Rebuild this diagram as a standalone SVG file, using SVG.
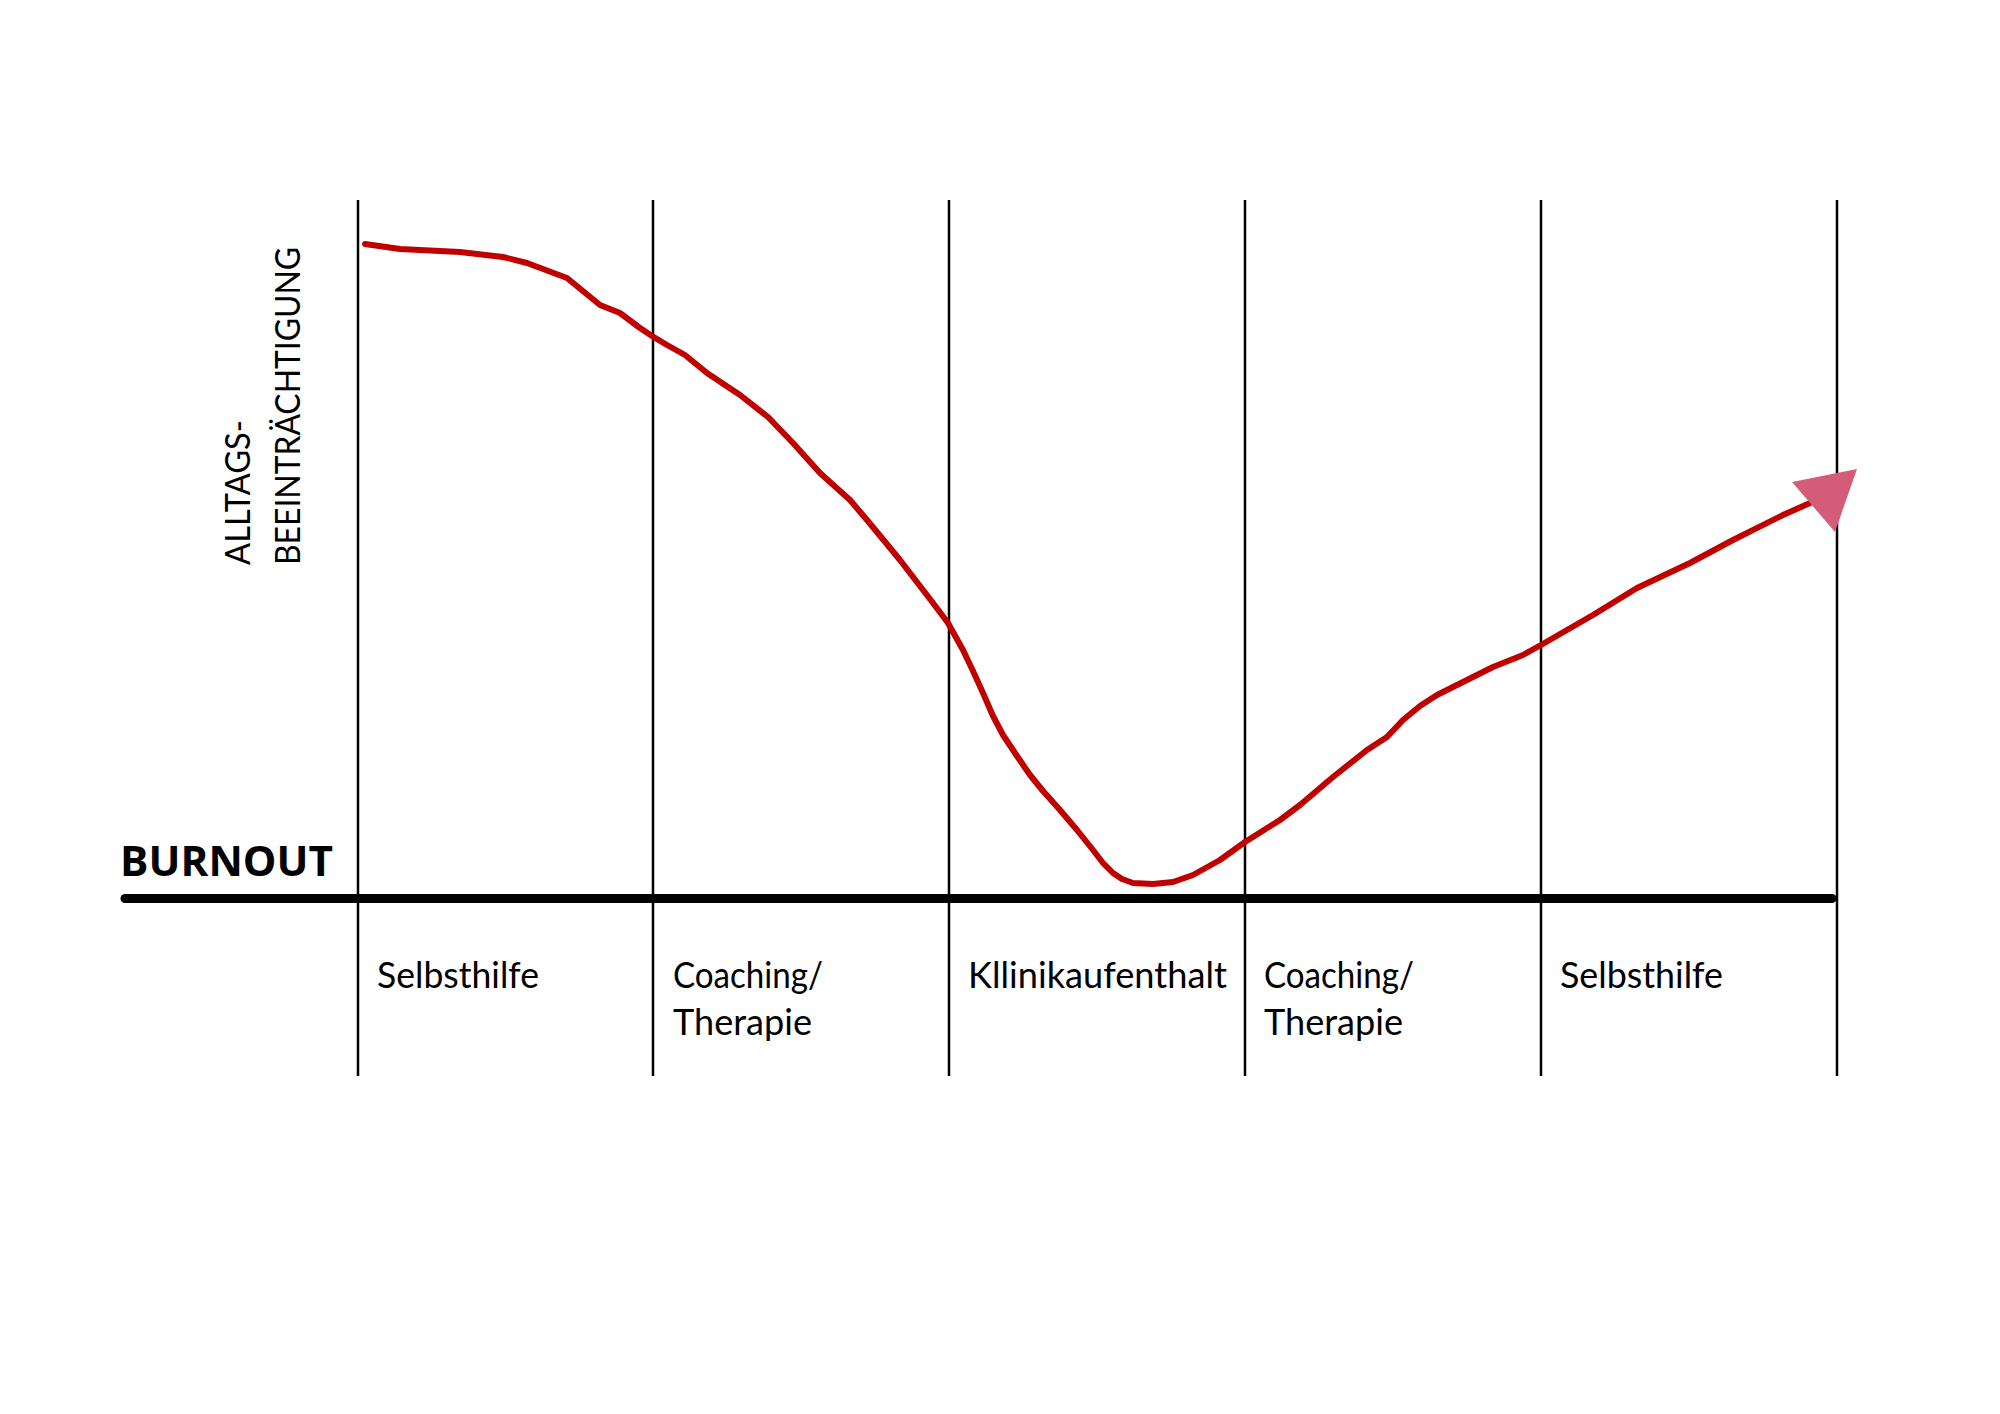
<svg xmlns="http://www.w3.org/2000/svg" width="2000" height="1414" viewBox="0 0 2000 1414">
  <style>
    .grid { stroke: #000; stroke-width: 2.5; fill: none; }
    .axis { stroke: #000; stroke-width: 9; stroke-linecap: round; fill: none; }
    .curve { stroke: #C00000; stroke-width: 6; fill: none; stroke-linejoin: round; stroke-linecap: round; }
    .lbl { font-family: Lato, "Open Sans", "Liberation Sans", sans-serif; font-size: 36px; fill: #000; }
    .ylbl { font-family: Lato, "Open Sans", "Liberation Sans", sans-serif; font-size: 35px; fill: #000; }
    .burn { font-family: "Open Sans", "Liberation Sans", sans-serif; font-weight: bold; font-size: 42px; fill: #000; }
  </style>
  <rect width="2000" height="1414" fill="#fff"/>

  <g id="grid">
    <line class="grid" x1="358" y1="200" x2="358" y2="1076"/>
    <line class="grid" x1="653" y1="200" x2="653" y2="1076"/>
    <line class="grid" x1="949" y1="200" x2="949" y2="1076"/>
    <line class="grid" x1="1245" y1="200" x2="1245" y2="1076"/>
    <line class="grid" x1="1541" y1="200" x2="1541" y2="1076"/>
    <line class="grid" x1="1837" y1="200" x2="1837" y2="1076"/>
  </g>

  <g id="axis">
    <line class="axis" x1="125" y1="898.5" x2="1832" y2="898.5"/>
  </g>

  <g id="y-label">
    <text class="ylbl" transform="translate(250,565) rotate(-90)" textLength="145" lengthAdjust="spacingAndGlyphs">ALLTAGS-</text>
    <text class="ylbl" transform="translate(300,565) rotate(-90)" textLength="318" lengthAdjust="spacingAndGlyphs">BEEINTRÄCHTIGUNG</text>
  </g>

  <g id="burnout">
    <text class="burn" x="120" y="876" textLength="213" lengthAdjust="spacingAndGlyphs">BURNOUT</text>
  </g>

  <g id="phase-1">
    <text class="lbl" x="377" y="988" textLength="162" lengthAdjust="spacingAndGlyphs">Selbsthilfe</text>
  </g>
  <g id="phase-2">
    <text class="lbl" x="673" y="988" textLength="150" lengthAdjust="spacingAndGlyphs">Coaching/</text>
    <text class="lbl" x="673" y="1035" textLength="139" lengthAdjust="spacingAndGlyphs">Therapie</text>
  </g>
  <g id="phase-3">
    <text class="lbl" x="968" y="988" textLength="259" lengthAdjust="spacingAndGlyphs">Kllinikaufenthalt</text>
  </g>
  <g id="phase-4">
    <text class="lbl" x="1264" y="988" textLength="150" lengthAdjust="spacingAndGlyphs">Coaching/</text>
    <text class="lbl" x="1264" y="1035" textLength="139" lengthAdjust="spacingAndGlyphs">Therapie</text>
  </g>
  <g id="phase-5">
    <text class="lbl" x="1560" y="988" textLength="163" lengthAdjust="spacingAndGlyphs">Selbsthilfe</text>
  </g>

  <g id="connectors">
    <polyline class="curve" points="365,244 400,249 460,252 503,257 527,263 567,278 600,305 620,313 640,328 652,336 667,345 685,355 707,373 740,395 768,417 793,443 820,473 850,500 867,520 900,560 933,603 948,623 963,650 973,671 983,693 993,716 1003,735 1017,756 1030,775 1043,791 1060,810 1077,830 1093,850 1103,863 1113,873 1122,879 1133,883 1153,884 1173,882 1193,875 1220,860 1245,842 1280,820 1300,805 1333,777 1367,750 1387,737 1403,720 1420,706 1437,695 1467,680 1493,667 1523,655 1541,645 1567,630 1593,615 1637,588 1690,563 1733,540 1783,515 1810,503"/>
    <polygon points="1792,482 1857,469 1835,532" fill="#D35C79"/>
  </g>
</svg>
